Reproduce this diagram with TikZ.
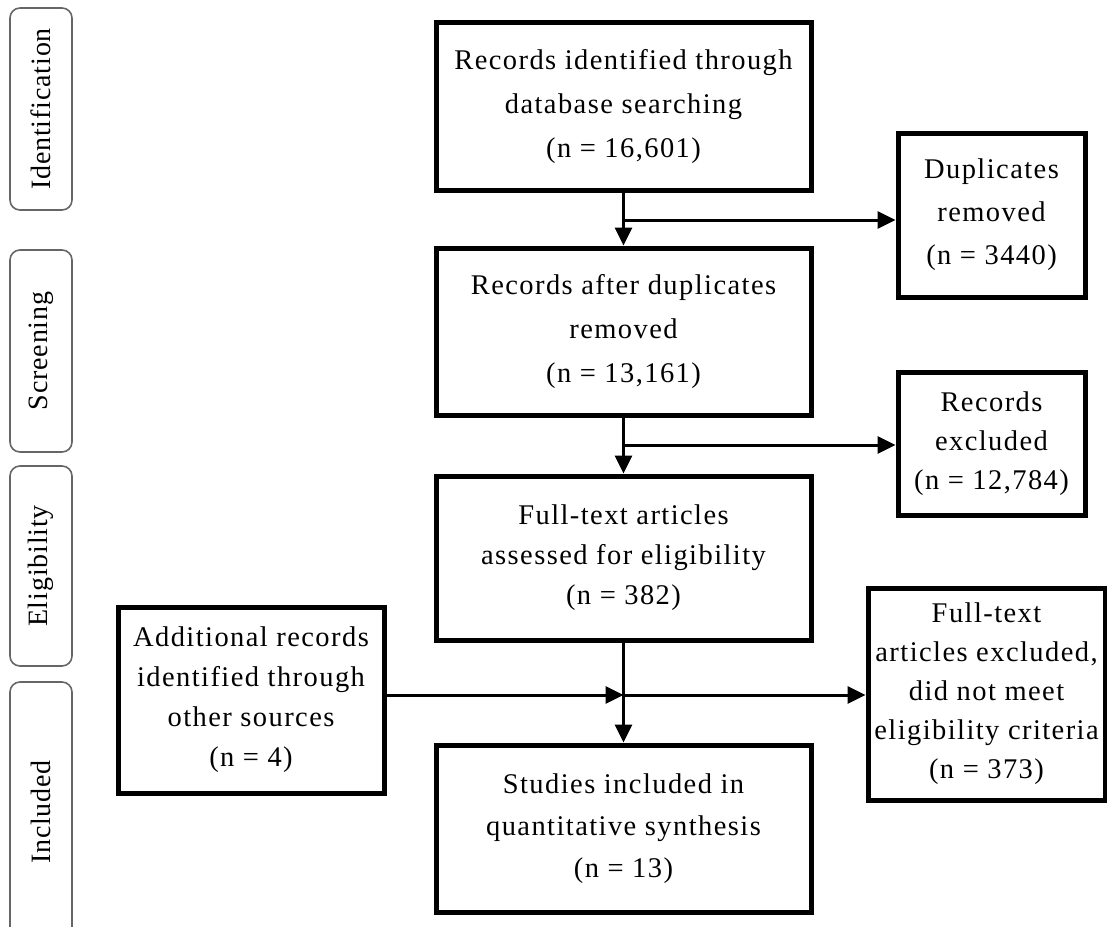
\documentclass[tikz,border=0pt]{standalone}
\usepackage{fontspec}
\setmainfont{Liberation Serif}[LetterSpace=5]
\newfontfamily\sidefont{Liberation Serif}[LetterSpace=3]
\usetikzlibrary{arrows.meta}
\begin{document}
\begin{tikzpicture}[x=1pt,y=-1pt,
  box/.style={draw=black,line width=5pt,rectangle,inner sep=0pt,align=center,
    font=\fontsize{28.5}{44}\selectfont},
  side/.style={draw=gray!80!black,line width=1.6pt,rounded corners=10pt,rectangle,
    minimum width=62pt,inner sep=0pt},
  sidetext/.style={rotate=90,font=\sidefont\fontsize{28}{30}\selectfont},
  arr/.style={line width=3pt,-{Triangle[length=18pt,width=17pt]}}]
\useasboundingbox (0,0) rectangle (1107,926);
% side labels
\node[side,minimum height=202pt] (sid) at (41,109) {};
\node[sidetext] (tid) at (sid.center) {Identification};
\node[side,minimum height=202pt] (ssc) at (41,351) {};
\node[sidetext] (tsc) at (ssc.center) {Screening};
\node[side,minimum height=200pt] (sel) at (41,566) {};
\node[sidetext] (tel) at (sel.center) {Eligibility};
\node[side,minimum height=260pt] (sin) at (41,812) {};
\node[sidetext] (tin) at (sin.center) {Included};
% boxes
\node[box,minimum width=375pt,minimum height=168pt] (b1) at (623.5,106)
  {Records identified through\\database searching\\(n = 16,601)};
\node[box,minimum width=187pt,minimum height=164pt,font=\fontsize{28.5}{43}\selectfont] (b2) at (991.5,215)
  {Duplicates\\removed\\(n = 3440)};
\node[box,minimum width=375pt,minimum height=167pt] (b3) at (623.5,331.5)
  {Records after duplicates\\removed\\(n = 13,161)};
\node[box,minimum width=187pt,minimum height=143pt,font=\fontsize{28.5}{39}\selectfont] (b4) at (991.5,443.5)
  {Records\\excluded\\(n = 12,784)};
\node[box,minimum width=375pt,minimum height=164pt,font=\fontsize{28.5}{40}\selectfont] (b5) at (623.5,558)
  {Full-text articles\\assessed for eligibility\\(n = 382)};
\node[box,minimum width=266pt,minimum height=186pt,font=\fontsize{28.5}{40}\selectfont] (b6) at (251,700)
  {Additional records\\identified through\\other sources\\(n = 4)};
\node[box,minimum width=237pt,minimum height=212pt,font=\fontsize{28.5}{39}\selectfont] (b7) at (986.5,694)
  {Full-text\\articles excluded,\\did not meet\\eligibility criteria\\(n = 373)};
\node[box,minimum width=375pt,minimum height=167pt,font=\fontsize{28.5}{42}\selectfont] (b8) at (623.5,828.5)
  {Studies included in\\quantitative synthesis\\(n = 13)};
% connectors
\coordinate (j1) at (b1.south |- 0,220);
\coordinate (j2) at (b3.south |- 0,445);
\coordinate (j3) at (b5.south |- 0,695);
\draw[arr] (b1.south) -- (b3.north);
\draw[arr] (j1) -- (j1 -| b2.west);
\draw[arr] (b3.south) -- (b5.north);
\draw[arr] (j2) -- (j2 -| b4.west);
\draw[arr] (b5.south) -- (b8.north);
\draw[arr] (j3 -| b6.east) -- (j3);
\draw[arr] (j3) -- (j3 -| b7.west);
\end{tikzpicture}
\end{document}
